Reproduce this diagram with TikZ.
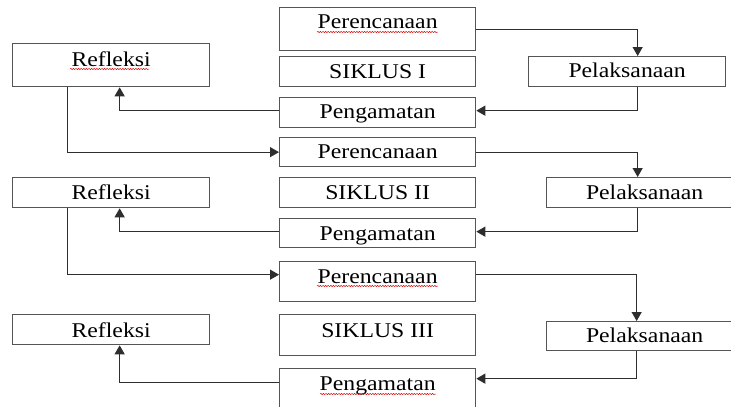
\documentclass[tikz,border=0pt]{standalone}
\usepackage{fontspec}
\setmainfont{Liberation Serif}
\usetikzlibrary{arrows.meta,decorations.pathmorphing}
\definecolor{boxline}{HTML}{555555}
\definecolor{conn}{HTML}{2E2E2E}
\newcommand{\stx}[1]{\scalebox{1.13}[1]{#1}}
\tikzset{
  box/.style={draw=boxline, line width=1.3pt, fill=white, rectangle, inner xsep=0pt, inner ysep=0pt,
    minimum height=0pt, anchor=north west, font=\fontsize{21}{21}\selectfont, text=black},
  conn/.style={draw=conn, line width=1.2pt, -{Triangle[length=9pt,width=10pt]}},
  spell/.style={draw=red!85!black, line width=0.5pt, decorate, decoration={snake, amplitude=0.6pt, segment length=2.6pt}}
}
\begin{document}
\begin{tikzpicture}[x=1pt,y=-1pt]
\useasboundingbox (0,0) rectangle (731,407);
\clip (0,0) rectangle (731,407);
% row 1
\node[box, minimum width=196pt, text height=21pt, text depth=22pt] (p1) at (279,7) {\stx{Perencanaan}};
\node[box, minimum width=196pt, text height=22pt, text depth=8pt] (s1) at (279,56) {\stx{SIKLUS I}};
\node[box, minimum width=196pt, text height=21pt, text depth=9pt] (g1) at (279,97) {\stx{Pengamatan}};
\node[box, minimum width=197pt, text height=23pt, text depth=20pt] (r1) at (12,43) {\stx{Refleksi}};
\node[box, minimum width=197pt, text height=21pt, text depth=9pt] (l1) at (528,56) {\stx{Pelaksanaan}};
% row 2
\node[box, minimum width=196pt, text height=21pt, text depth=8pt] (p2) at (279,137) {\stx{Perencanaan}};
\node[box, minimum width=196pt, text height=22pt, text depth=8pt] (s2) at (279,177) {\stx{SIKLUS II}};
\node[box, minimum width=196pt, text height=22pt, text depth=7pt] (g2) at (279,218) {\stx{Pengamatan}};
\node[box, minimum width=197pt, text height=22pt, text depth=8pt] (r2) at (12,177) {\stx{Refleksi}};
\node[box, minimum width=196pt, text height=22pt, text depth=8pt] (l2) at (546,177) {\stx{Pelaksanaan}};
% row 3
\node[box, minimum width=196pt, text height=22pt, text depth=18pt] (p3) at (279,261) {\stx{Perencanaan}};
\node[box, minimum width=196pt, text height=23pt, text depth=18pt] (s3) at (279,314) {\stx{SIKLUS III}};
\node[box, minimum width=196pt, text height=22pt, text depth=22pt] (g3) at (279,368) {\stx{Pengamatan}};
\node[box, minimum width=197pt, text height=23pt, text depth=7pt] (r3) at (12,314) {\stx{Refleksi}};
\node[box, minimum width=196pt, text height=21pt, text depth=8pt] (l3) at (546,321) {\stx{Pelaksanaan}};
% connectors row 1
\draw[conn] (p1.east) -| ([xshift=10.5pt]l1.north);
\draw[conn] ([xshift=10.5pt]l1.south) |- ([yshift=2pt]g1.east);
\draw[conn] ([yshift=2pt]g1.west) -| ([xshift=8.5pt]r1.south);
\draw[conn] ([xshift=-43.5pt]r1.south) |- (p2.west);
% row 2
\draw[conn] (p2.east) -| ([xshift=-7pt]l2.north);
\draw[conn] ([xshift=-7pt]l2.south) |- ([yshift=1.5pt]g2.east);
\draw[conn] ([yshift=1.5pt]g2.west) -| ([xshift=8.5pt]r2.south);
\draw[conn] ([xshift=-43.5pt]r2.south) |- ([yshift=7pt]p3.west);
% row 3
\draw[conn] ([yshift=7pt]p3.east) -| ([xshift=-8pt]l3.north);
\draw[conn] ([xshift=-8pt]l3.south) |- ([yshift=12pt]g3.east);
\draw[conn] ([yshift=8pt]g3.west) -| ([xshift=8.5pt]r3.south);
% spell-check underlines
\draw[spell] (317,32) -- (438,32);
\draw[spell] (70,69) -- (149,69);
\draw[spell] (317,286) -- (438,286);
\draw[spell] (320,394) -- (436,394);
\end{tikzpicture}
\end{document}
